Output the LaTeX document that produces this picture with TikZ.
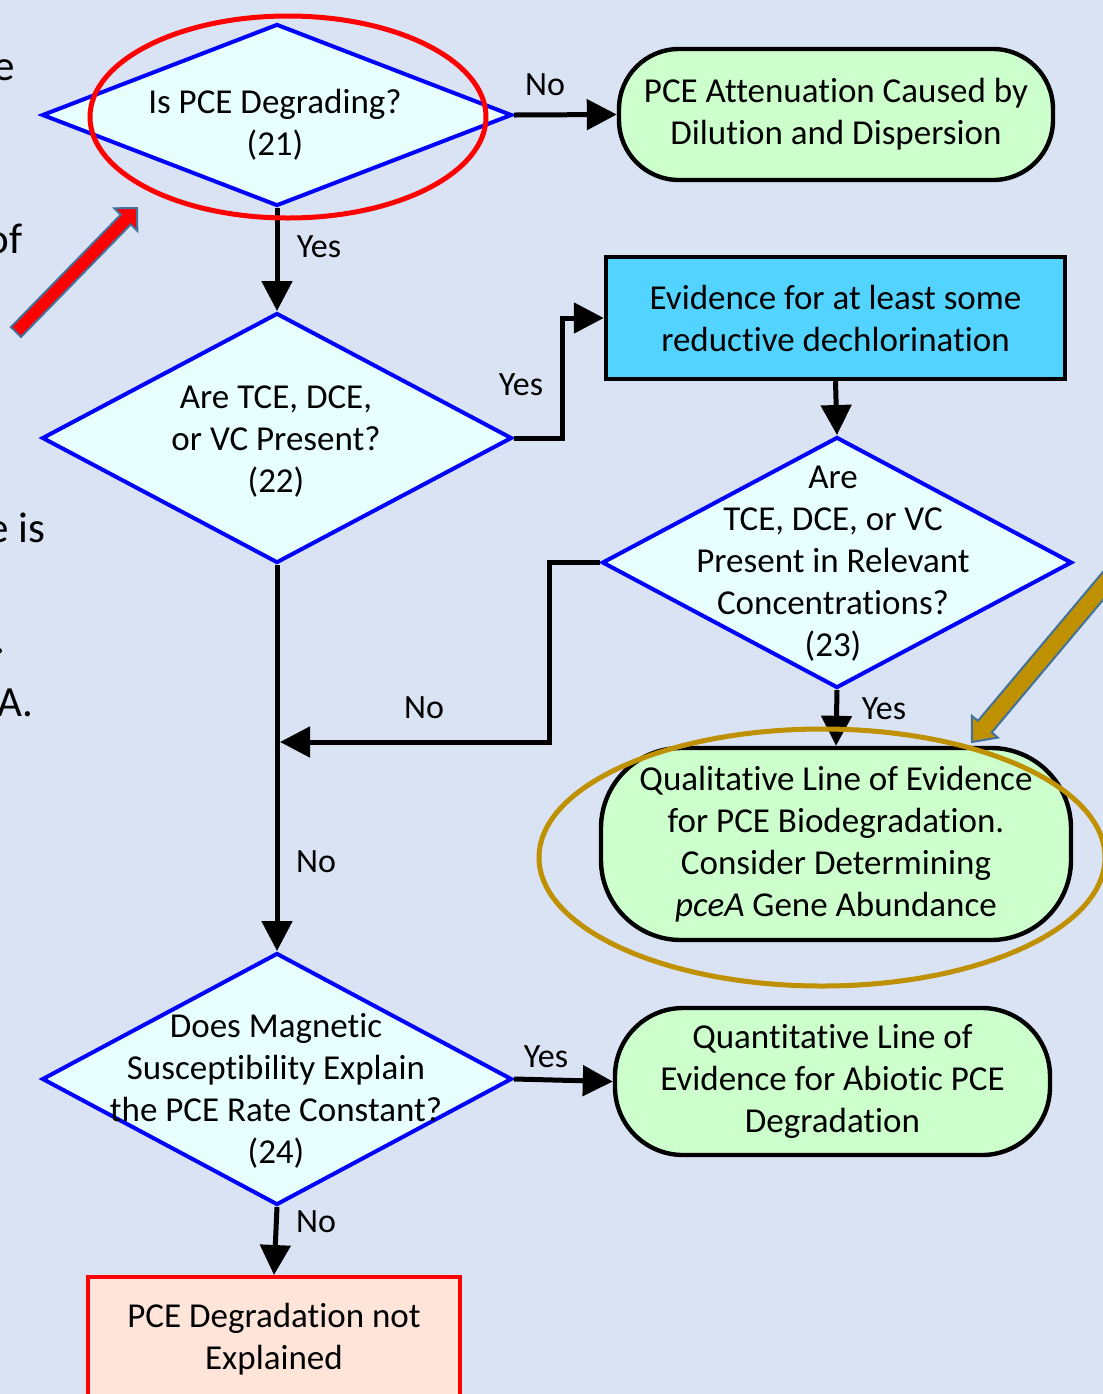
\documentclass[tikz,border=0pt]{standalone}
\usepackage{fontspec}
\setmainfont{Carlito}[Ligatures=NoCommon]
\usetikzlibrary{shapes.geometric,arrows.meta}

\definecolor{slidebg}{RGB}{218,227,243}
\definecolor{decfill}{RGB}{232,255,255}
\definecolor{decline}{RGB}{0,0,255}
\definecolor{greenfill}{RGB}{204,255,204}
\definecolor{cyanfill}{RGB}{83,211,255}
\definecolor{peachfill}{RGB}{255,229,217}
\definecolor{goldline}{RGB}{191,144,0}
\definecolor{arrowedge}{RGB}{65,113,156}

\tikzset{
  decision/.style={diamond, aspect=1, draw=decline, fill=decfill, line width=2pt, inner sep=0pt},
  txt/.style={align=center, inner sep=0pt, font=\fontsize{17.5}{21}\selectfont},
  lbl/.style={inner sep=0pt, font=\fontsize{17}{21}\selectfont},
  outcome/.style={draw=black, fill=greenfill, line width=2.2pt, align=center, inner sep=0pt,
                  font=\fontsize{17.5}{21}\selectfont},
  evidencebox/.style={draw=black, fill=cyanfill, line width=2.2pt, align=center, inner sep=0pt,
                  font=\fontsize{17.5}{21}\selectfont},
  failbox/.style={draw=red, fill=peachfill, line width=2pt, inner sep=0pt},
  conn/.style={line width=2.5pt, -{Triangle[length=15pt,width=15pt]}},
  sidetext/.style={anchor=base east, inner sep=0pt, font=\fontsize{21.5}{26}\selectfont},
  blockarrow/.style={draw=arrowedge, line width=1pt, line join=miter}
}

\begin{document}
\begin{tikzpicture}[x=0.5pt,y=-0.5pt]
\fill[slidebg] (0,0) rectangle (1103,1394);
\useasboundingbox (0,0) rectangle (1103,1394);
\clip (0,0) rectangle (1103,1394);

% text running in from the left margin
\node[sidetext] (s1) at (15,80) {e};
\node[sidetext] (s2) at (23,253) {of};
\node[sidetext] (s3) at (46,542) {e is};
\node[sidetext] (s4) at (6,653) {.};
\node[sidetext] (s5) at (34,716) {A.};

% decisions
\node[decision, minimum width=235pt, minimum height=91pt] (d1) at (277,115) {};
\node[txt] (t1) at (275,125) {Is PCE Degrading?\\(21)};

\node[decision, minimum width=235pt, minimum height=125pt] (d2) at (277,438) {};
\node[txt] (t2) at (276,442) {Are TCE, DCE,\\or VC Present?\\(22)};

\node[decision, minimum width=235pt, minimum height=125.5pt] (d3) at (837,562.5) {};
\node[txt] (t3) at (833,564) {Are\\TCE, DCE, or VC\\Present in Relevant\\Concentrations?\\(23)};

\node[decision, minimum width=235pt, minimum height=126pt] (d4) at (277,1079) {};
\node[txt] (t4) at (276,1091) {Does Magnetic\\Susceptibility Explain\\the PCE Rate Constant?\\(24)};

% outcome boxes
\node[outcome, minimum width=217pt, minimum height=65.5pt, rounded corners=30pt] (b1) at (836,114.5)
  {PCE Attenuation Caused by\\Dilution and Dispersion};
\node[evidencebox, minimum width=229.5pt, minimum height=61pt] (b2) at (835.5,318)
  {Evidence for at least some\\reductive dechlorination};
\node[outcome, minimum width=235pt, minimum height=96pt, rounded corners=40pt] (b3) at (836,844)
  {Qualitative Line of Evidence\\for PCE Biodegradation.\\Consider Determining\\\textit{pceA} Gene Abundance};
\node[outcome, minimum width=217.5pt, minimum height=73.5pt, rounded corners=34pt] (b4) at (832.5,1081.5)
  {Quantitative Line of\\Evidence for Abiotic PCE\\Degradation};
\node[failbox, anchor=north, minimum width=186pt, minimum height=80pt] (b5) at (274,1275) {};
\node[txt] (t5) at (274,1339) {PCE Degradation not\\Explained};

% connectors
\coordinate (join) at (280,742);
\draw[conn] (d1.east) -- (b1.west);
\draw[conn] (d1.south) -- (d2.north);
\draw[conn] (d2.east) -- ++(48,0) |- (b2.west);
\draw[conn] (b2.south) -- (d3.north);
\draw[conn] (d3.south) -- (b3.north);
\draw[conn] (d3.west) -- ++(-51,0) |- (join);
\draw[conn] (d2.south) -- (d4.north);
\draw[conn] (d4.east) -- (b4.west);
\draw[conn] (d4.south) -- (b5.north);

% connector labels
\node[lbl] (l1) at (545,85) {No};
\node[lbl] (l2) at (319,247) {Yes};
\node[lbl] (l3) at (521,385) {Yes};
\node[lbl] (l4) at (424,708) {No};
\node[lbl] (l5) at (884,709) {Yes};
\node[lbl] (l6) at (316,862) {No};
\node[lbl] (l7) at (546,1057) {Yes};
\node[lbl] (l8) at (316,1222) {No};

% highlight rings
\draw[red, line width=2.5pt] (288,117) ellipse [x radius=198, y radius=101];
\draw[goldline, line width=2.5pt] (822,857.5) ellipse [x radius=283, y radius=128.5];

% pointer arrows
\filldraw[blockarrow, fill=red]
  (21.0,336.9) -- (130.8,224.4) -- (137.3,230.7) -- (137,208) -- (114.3,208.3)
  -- (120.8,214.6) -- (11.0,327.1) -- cycle;
\filldraw[blockarrow, fill=goldline]
  (1145.9,548.8) -- (991.7,732.5) -- (997.8,737.6) -- (972,742) -- (971.8,715.8)
  -- (977.9,720.9) -- (1132.1,537.2) -- cycle;
\end{tikzpicture}
\end{document}
